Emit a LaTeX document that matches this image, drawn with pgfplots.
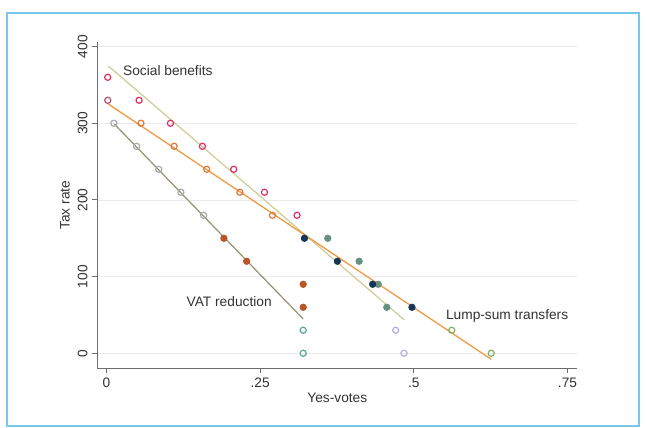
\documentclass[border=0pt]{standalone}
\usepackage{fontspec}
\setmainfont{Liberation Sans}
\usepackage{pgfplots}
\pgfplotsset{compat=1.18}
\definecolor{frameblue}{RGB}{120,200,235}
\definecolor{pinkc}{RGB}{220,50,100}
\definecolor{mauvec}{RGB}{175,80,110}
\definecolor{orangec}{RGB}{225,120,60}
\definecolor{orangeline}{RGB}{240,155,70}
\definecolor{khaki}{RGB}{205,205,150}
\definecolor{vatline}{RGB}{150,145,110}
\definecolor{grayc}{RGB}{165,170,175}
\definecolor{brownc}{RGB}{185,85,40}
\definecolor{navyc}{RGB}{20,55,85}
\definecolor{grayteal}{RGB}{100,145,130}
\definecolor{tealc}{RGB}{90,165,155}
\definecolor{lavc}{RGB}{185,170,225}
\definecolor{greenc}{RGB}{130,175,95}
\definecolor{axisgray}{RGB}{110,110,110}
\definecolor{textgray}{RGB}{50,50,50}
\begin{document}
\begin{tikzpicture}
\path[use as bounding box] (0,0) rectangle (484.5pt,321pt);
\fill[white] (0,0) rectangle (484.5pt,321pt);
\draw[frameblue, line width=1.2pt] (5.25pt,1.5pt) rectangle (479.25pt,311.25pt);
\begin{axis}[
  at={(72.98pt,44.78pt)}, anchor=south west,
  scale only axis, width=360pt, height=244.7pt,
  xmin=-0.015, xmax=0.766, ymin=-19.6, ymax=406,
  axis x line*=bottom, axis y line*=left,
  axis line style={axisgray, line width=0.8pt},
  tick style={axisgray, line width=0.8pt},
  tick align=outside, major tick length=3.75pt,
  xtick={0,0.25,0.5,0.75}, xticklabels={0,.25,.5,.75},
  ytick={0,100,200,300,400},
  ymajorgrids, grid style={black!8, line width=0.6pt},
  /pgf/number format/assume math mode=true,
  every tick label/.append style={font=\fontsize{10.3}{12}\selectfont, text=textgray},
  yticklabel style={rotate=90, anchor=south},
  label style={font=\fontsize{10.3}{12}\selectfont, text=textgray},
  xlabel={Yes-votes}, ylabel={Tax rate},
  xlabel style={at={(axis description cs:0.5,-0.092)}, anchor=center},
  ylabel style={at={(axis description cs:-0.0673,0.5)}, anchor=center},
  clip=false,
]
% fitted lines
\addplot[khaki, line width=0.9pt] coordinates {(0.003,374.7)(0.4846,43.4)};
\addplot[orangeline, line width=1.0pt] coordinates {(0.003,325)(0.626,-7.8)};
\addplot[vatline, line width=0.9pt] coordinates {(0.0127,299)(0.320,44.7)};
% points
\addplot[only marks, mark=o, mark size=2.3pt, pinkc, line width=0.9pt] coordinates {(0.002,360)(0.053,330)(0.104,300)(0.156,270)(0.207,240)(0.257,210)(0.310,180)};
\addplot[only marks, mark=o, mark size=2.3pt, mauvec, line width=0.9pt] coordinates {(0.002,330)};
\addplot[only marks, mark=o, mark size=2.3pt, orangec, line width=0.9pt] coordinates {(0.056,300)(0.110,270)(0.163,240)(0.217,210)(0.270,180)};
\addplot[only marks, mark=o, mark size=2.3pt, grayc, line width=0.9pt] coordinates {(0.012,300)(0.049,270)(0.085,240)(0.121,210)(0.158,180)};
\addplot[only marks, mark=*, mark size=2.5pt, brownc] coordinates {(0.191,150)(0.228,120)(0.320,90)(0.320,60)};
\addplot[only marks, mark=o, mark size=2.3pt, tealc, line width=0.9pt] coordinates {(0.320,30)(0.320,0)};
\addplot[only marks, mark=*, mark size=2.5pt, grayteal] coordinates {(0.360,150)(0.411,120)(0.442,90)(0.456,60)};
\addplot[only marks, mark=*, mark size=2.5pt, navyc] coordinates {(0.322,150)(0.3756,120)(0.433,90)(0.497,60)};
\addplot[only marks, mark=o, mark size=2.3pt, lavc, line width=0.9pt] coordinates {(0.4706,30)(0.484,0)};
\addplot[only marks, mark=o, mark size=2.3pt, greenc, line width=0.9pt] coordinates {(0.5617,30)(0.626,0)};
% labels
\node[anchor=west, inner sep=0pt, font=\fontsize{10.3}{12}\selectfont, text=textgray] at (axis cs:0.0267,369) {Social benefits};
\node[anchor=west, inner sep=0pt, font=\fontsize{10.3}{12}\selectfont, text=textgray] at (axis cs:0.130,68) {VAT reduction};
\node[anchor=west, inner sep=0pt, font=\fontsize{10.3}{12}\selectfont, text=textgray] at (axis cs:0.552,48.6) {Lump-sum transfers};
\end{axis}
\end{tikzpicture}
\end{document}
